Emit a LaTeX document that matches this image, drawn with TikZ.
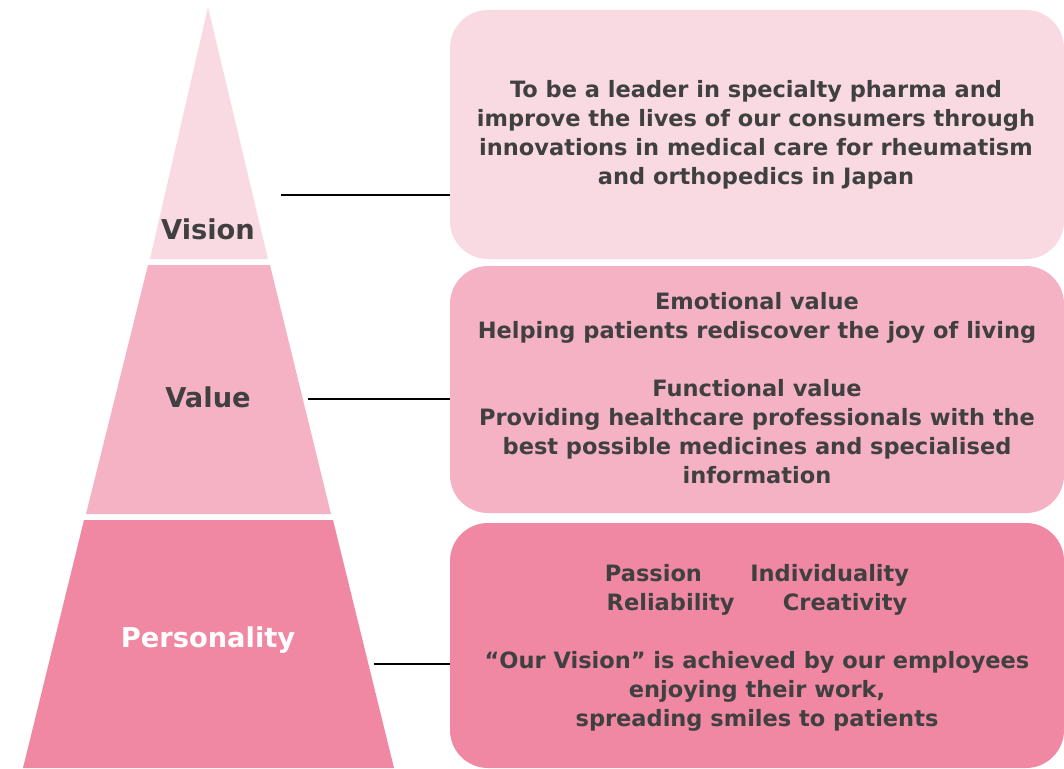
\documentclass[tikz,border=0pt]{standalone}
\usepackage{fontspec}
\setmainfont{DejaVu Sans}
\definecolor{visc}{HTML}{F9DAE3}
\definecolor{valc}{HTML}{F6B2C5}
\definecolor{perc}{HTML}{F188A3}
\definecolor{txtc}{HTML}{404040}
\begin{document}
\begin{tikzpicture}[x=1pt,y=-1pt,
  box/.style={rounded corners=38pt, minimum width=614pt, align=center, inner sep=0pt,
    text=txtc, font=\bfseries\fontsize{22.5}{29}\selectfont},
  lvl/.style={font=\bfseries\fontsize{27.3}{30}\selectfont},
  conn/.style={line width=2.6pt, black}]
\useasboundingbox (0,0) rectangle (1064,768);
% pyramid segments
\fill[visc] (208,7) -- (268,259) -- (150,259) -- cycle;
\fill[valc] (148,265) -- (270,265) -- (331,514) -- (86,514) -- cycle;
\fill[perc] (84,520) -- (333,520) -- (394,768) -- (23,768) -- cycle;
\node[lvl, text=txtc] (lvis) at (208,229) {Vision};
\node[lvl, text=txtc] (lval) at (208,397) {Value};
\node[lvl, text=white] (lper) at (208,640) {Personality};
% boxes
\node[box, fill=visc, minimum height=249pt] (bvis) at (757,134.5) {};
\node[box, fill=valc, minimum height=247pt] (bval) at (757,389.5) {};
\node[box, fill=perc, minimum height=245pt] (bper) at (757,645.5) {};
% texts
\node[box, anchor=center] (tvis) at (756,134.5) {To be a leader in specialty pharma and\\improve the lives of our consumers through\\innovations in medical care for rheumatism\\and orthopedics in Japan};
\node[box, anchor=center] (tval) at (757,388.5) {Emotional value\\Helping patients rediscover the joy of living\\[29pt]Functional value\\Providing healthcare professionals with the\\best possible medicines and specialised\\information};
\node[box, anchor=center] (tper) at (757,647.5) {Passion\hspace{2.15em}Individuality\\Reliability\hspace{2.15em}Creativity\\[29pt]“Our Vision” is achieved by our employees\\enjoying their work,\\spreading smiles to patients};
% connectors
\coordinate (cvis) at (281,195);
\coordinate (cval) at (308,399);
\coordinate (cper) at (374,664);
\draw[conn] (cvis) -- (cvis -| bvis.west);
\draw[conn] (cval) -- (cval -| bval.west);
\draw[conn] (cper) -- (cper -| bper.west);
\end{tikzpicture}
\end{document}
